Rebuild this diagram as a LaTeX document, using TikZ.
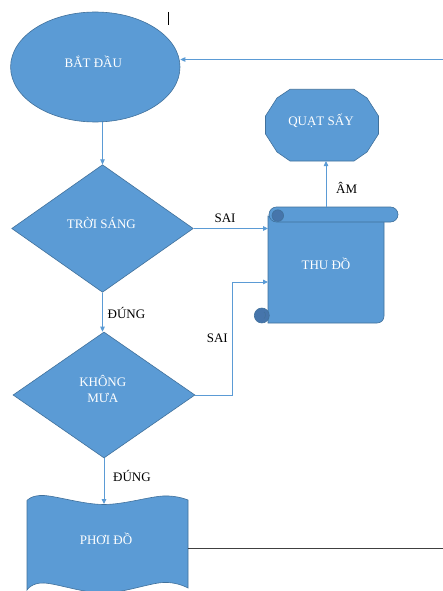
\documentclass[tikz,border=0pt]{standalone}
\usepackage{fontspec}
\setmainfont{Liberation Serif}
\usetikzlibrary{shapes.geometric, arrows.meta}
\definecolor{boxfill}{HTML}{5B9BD5}
\definecolor{boxline}{HTML}{41719C}
\definecolor{curlfill}{HTML}{4675AB}
\definecolor{wire}{HTML}{5B9BD5}
\definecolor{rulecol}{HTML}{404040}

\begin{document}
\begin{tikzpicture}[x=1pt, y=-1pt,
  shp/.style={fill=boxfill, draw=boxline, line width=0.6pt},
  curl/.style={fill=curlfill, draw=boxline, line width=0.6pt},
  frame/.style={inner sep=0pt, outer sep=0pt},
  intext/.style={text=white, font=\fontsize{13}{15}\selectfont, text height=8.6pt, text depth=0pt, inner sep=0pt},
  lab/.style={text=black, font=\fontsize{13}{15}\selectfont, text height=8.6pt, text depth=0pt, inner sep=0pt},
  wirearrow/.style={draw=wire, line width=0.9pt, -{Triangle[length=5pt,width=4.5pt]}}
]
\useasboundingbox (0,0) rectangle (443,591);
\fill[white] (0,0) rectangle (443,591);
\clip (0,0) rectangle (443,591);

% start ellipse
\node[ellipse, shp, minimum width=169.4pt, minimum height=110pt, inner sep=0pt] (e) at (95.3,67) {};
\node[intext] (et) at (93.3,63) {BẮT ĐẦU};

% text cursor mark
\draw[black, line width=0.8pt] (168,12) -- (168,25);

% decision diamonds
\node[diamond, shp, minimum width=181.6pt, minimum height=127.6pt, inner sep=0pt] (d1) at (102.5,228.5) {};
\node[intext] (d1t) at (101.3,224.5) {TRỜI SÁNG};
\node[diamond, shp, minimum width=182pt, minimum height=126pt, inner sep=0pt] (d2) at (104,395) {};
\node[intext] (d2a) at (102.8,382) {KHÔNG};
\node[intext] (d2b) at (102.8,398.5) {MƯA};

% twelve-sided dryer box
\filldraw[shp] (290,89.3) -- (354,89.3) -- (367,98) -- (378.5,116) -- (378.5,134) -- (367,152)
  -- (354,161) -- (290,161) -- (277,152) -- (265.5,134) -- (265.5,116) -- (277,98) -- cycle;
\node[frame, minimum width=113pt, minimum height=71.7pt] (q) at (322,125.2) {};
\node[intext] (qt) at (321,121) {QUẠT SẤY};

% vertical scroll
\filldraw[shp] (268,216) -- (268,323) -- (377,323) .. controls (381,323) and (384,320) .. (384,316) -- (384,216) -- cycle;
\filldraw[curl] (261.8,315.5) circle[radius=7.5];
\draw[boxline, line width=0.5pt] (264,312) .. controls (266,313) and (266,317) .. (264,318.5);
\filldraw[shp, rounded corners=7.5pt] (269,207) rectangle (398,222);
\filldraw[curl] (277.8,215.6) circle[radius=5.8];
\node[frame, minimum width=116pt, minimum height=116pt, intext] (t) at (326,265) {THU ĐỒ};

% punched tape
\filldraw[shp] plot[smooth, tension=0.6] coordinates {(27,500.5) (44,495.5) (103.5,504.5) (163,496) (188,500)}
  -- plot[smooth, tension=0.6] coordinates {(188,588) (163,582.5) (103.5,593) (44,583) (27,590)} -- cycle;
\node[frame, minimum width=161pt, minimum height=88pt] (p) at (107.5,548) {};
\node[intext] (pt) at (106,540.5) {PHƠI ĐỒ};

% loose ends at the right border
\coordinate (back) at (443,59.5);
\coordinate (rim) at (443,548);
\coordinate (bend) at (232.5,282);

% connectors
\draw[wirearrow] (back) -- (back -| e.east);
\draw[wirearrow] (d1.north |- e.south) -- (d1.north);
\draw[wirearrow] (d1.south) -- (d1.south |- d2.north);
\draw[wirearrow] (d2.south) -- (d2.south |- p.north);
\draw[wirearrow] (d1.east) -- (d1.east -| t.west);
\draw[wirearrow] (d2.east) -| (bend) -- (bend -| t.west);
\draw[wirearrow] (t.north) -- (t.north |- q.south);
\draw[rulecol, line width=1pt] (p.east) -- (rim);

% branch labels
\node[lab] (l1) at (225,218.5) {SAI};
\node[lab] (l2) at (217.3,338) {SAI};
\node[lab] (l3) at (126.5,314.5) {ĐÚNG};
\node[lab] (l4) at (132,477) {ĐÚNG};
\node[lab] (l5) at (346.7,189) {ÂM};
\end{tikzpicture}
\end{document}
